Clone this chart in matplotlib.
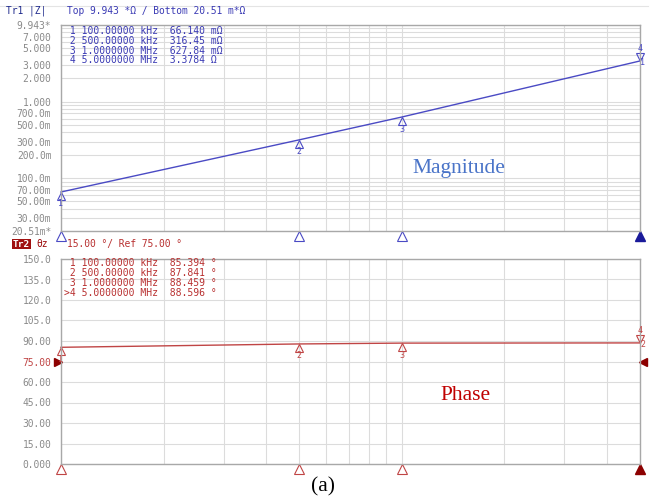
import matplotlib
matplotlib.use("Agg")
import matplotlib.pyplot as plt
from matplotlib.ticker import LogLocator, NullFormatter, FixedLocator
from matplotlib.transforms import offset_copy

W, H = 652, 499

# marker data
freq_hz = [100e3, 500e3, 1e6, 5e6]
mag_ohm = [0.06614, 0.31645, 0.62784, 3.3784]
phase_deg = [85.394, 87.841, 88.459, 88.596]
marker_ids = ["1", "2", "3", "4"]

mag_rows = [" 1 100.00000 kHz  66.140 mΩ",
            " 2 500.00000 kHz  316.45 mΩ",
            " 3 1.0000000 MHz  627.84 mΩ",
            " 4 5.0000000 MHz  3.3784 Ω"]
phase_rows = [" 1 100.00000 kHz  85.394 °",
              " 2 500.00000 kHz  87.841 °",
              " 3 1.0000000 MHz  88.459 °",
              ">4 5.0000000 MHz  88.596 °"]

mag_ticks = [9.943, 7, 5, 3, 2, 1, 0.7, 0.5, 0.3, 0.2, 0.1, 0.07, 0.05, 0.03, 0.02051]
mag_tick_labels = ["9.943*", "7.000", "5.000", "3.000", "2.000", "1.000", "700.0m",
                   "500.0m", "300.0m", "200.0m", "100.0m", "70.00m", "50.00m",
                   "30.00m", "20.51m*"]
phase_ticks = [0, 15, 30, 45, 60, 75, 90, 105, 120, 135, 150]
phase_tick_labels = ["0.000", "15.00", "30.00", "45.00", "60.00", "75.00", "90.00",
                     "105.0", "120.0", "135.0", "150.0"]
phase_ref = 75

MONO = "DejaVu Sans Mono"
SERIF = "Liberation Serif"
BLUE = "#4a4ac4"
BLUE_TXT = "#3a3ab4"
BLUE_DARK = "#1f2a8c"
RED = "#c04545"
RED_TXT = "#b83030"
RED_DARK = "#9c0a0a"
GRAY = "#8a8a8a"
GRID = "#dcdcdc"


def fx(x):
    return x / W


def fy(y):
    return 1 - y / H


fig = plt.figure(figsize=(W / 100, H / 100), dpi=100)

ax1 = fig.add_axes([fx(61), fy(231), fx(640) - fx(61), fy(25) - fy(231)])
ax2 = fig.add_axes([fx(61), fy(464), fx(640) - fx(61), fy(259) - fy(464)])

for ax in (ax1, ax2):
    ax.set_xscale("log")
    ax.set_xlim(freq_hz[0], freq_hz[-1])
    ax.xaxis.set_major_locator(LogLocator(base=10, subs=range(1, 10), numticks=50))
    ax.xaxis.set_minor_locator(FixedLocator([]))
    ax.xaxis.set_major_formatter(NullFormatter())
    ax.tick_params(axis="both", which="both", length=0)
    ax.tick_params(axis="y", pad=7, labelcolor=GRAY)
    ax.grid(True, which="both", color=GRID, lw=0.8)
    ax.set_axisbelow(True)
    for s in ax.spines.values():
        s.set_color("#a8a8a8")
        s.set_linewidth(1)

# magnitude panel
ax1.set_yscale("log")
ax1.set_ylim(mag_ticks[-1], mag_ticks[0])
ax1.yaxis.set_minor_locator(LogLocator(base=10, subs=range(1, 10), numticks=50))
ax1.yaxis.set_minor_formatter(NullFormatter())
ax1.set_yticks(mag_ticks)
ax1.set_yticklabels(mag_tick_labels, fontfamily=MONO, fontsize=6.9)
ax1.plot(freq_hz, mag_ohm, color=BLUE, lw=1, clip_on=False)

# phase panel
ax2.set_ylim(phase_ticks[0], phase_ticks[-1])
ax2.set_yticks(phase_ticks)
ax2.set_yticklabels(phase_tick_labels, fontfamily=MONO, fontsize=6.9)
ax2.get_yticklabels()[phase_ticks.index(phase_ref)].set_color(RED)
ax2.plot(freq_hz, phase_deg, color=RED, lw=1, clip_on=False)


def draw_markers(ax, values, col, fill_col, last_tag):
    below = offset_copy(ax.transData, fig=fig, y=-4, units="dots")
    below_txt = offset_copy(ax.transData, fig=fig, y=-12, units="dots")
    above = offset_copy(ax.transData, fig=fig, y=4, units="dots")
    above_txt = offset_copy(ax.transData, fig=fig, y=12, units="dots")
    side_txt = offset_copy(ax.transData, fig=fig, x=3, y=-2, units="dots")
    for f, v, m in zip(freq_hz[:-1], values[:-1], marker_ids[:-1]):
        ax.plot(f, v, marker="^", ms=6, mfc="none", mec=col, mew=0.8,
                transform=below, clip_on=False)
        ax.text(f, v, m, transform=below_txt, color=col, fontsize=6,
                fontfamily=MONO, ha="center", va="center")
    f, v = freq_hz[-1], values[-1]
    ax.plot(f, v, marker="v", ms=6, mfc="none", mec=col, mew=0.8,
            transform=above, clip_on=False)
    ax.text(f, v, marker_ids[-1], transform=above_txt, color=col, fontsize=6,
            fontfamily=MONO, ha="center", va="center")
    ax.text(f, v, last_tag, transform=side_txt, color=col, fontsize=6,
            fontfamily=MONO, ha="center", va="center")
    # stimulus markers under the x axis
    xt = ax.get_xaxis_transform()
    ax.plot(freq_hz[:-1], [-0.025] * 3, ls="none", marker="^", ms=6.5, mfc="white",
            mec=col, mew=0.8, transform=xt, clip_on=False)
    ax.plot(freq_hz[-1], -0.025, marker="^", ms=6.5, color=fill_col, transform=xt,
            clip_on=False)


draw_markers(ax1, mag_ohm, BLUE, "#1a1a9a", "1")
draw_markers(ax2, phase_deg, RED, "#8c0000", "2")

# reference level arrows on the phase panel
yt = ax2.get_yaxis_transform()
ax2.plot(-0.006, phase_ref, marker=">", ms=6, color="#8c0000", transform=yt, clip_on=False)
ax2.plot(1.006, phase_ref, marker="<", ms=6, color="#8c0000", transform=yt, clip_on=False)

# marker tables
row_step = 9.8
for i, row in enumerate(mag_rows):
    fig.text(fx(64), fy(31 + i * row_step), row, color=BLUE_TXT, fontfamily=MONO,
             fontsize=7.0, va="center")
for i, row in enumerate(phase_rows):
    fig.text(fx(64), fy(263.5 + i * row_step), row, color=RED_TXT, fontfamily=MONO,
             fontsize=7.0, va="center")

# header lines
fig.add_artist(plt.Line2D([0, fx(648)], [fy(6), fy(6)], color="#e4e4e4", lw=0.8))
fig.text(fx(6), fy(11), "Tr1 |Z|", color=BLUE_DARK, fontfamily=MONO, fontsize=6.9,
         va="center")
fig.text(fx(67), fy(11), "Top 9.943 *Ω / Bottom 20.51 m*Ω", color=BLUE_TXT,
         fontfamily=MONO, fontsize=6.9, va="center")
fig.text(fx(13), fy(244), "Tr2", color="white", fontfamily=MONO, fontsize=6.8,
         fontweight="bold", va="center",
         bbox=dict(boxstyle="square,pad=0.1", fc="#a01010", ec="none"))
fig.text(fx(36), fy(244), "θz", color=RED_DARK, fontfamily=MONO, fontsize=6.9,
         va="center")
fig.text(fx(67), fy(244), "15.00 °/ Ref 75.00 °", color=RED_TXT, fontfamily=MONO,
         fontsize=6.9, va="center")

# panel captions
fig.text(fx(412), fy(168), "Magnitude", color="#4a74c8", fontfamily=SERIF,
         fontsize=15.5, va="center")
fig.text(fx(440), fy(395), "Phase", color="#c00000", fontfamily=SERIF,
         fontsize=15.5, va="center")
fig.text(fx(323), fy(487), "(a)", color="black", fontfamily=SERIF, fontsize=15.5,
         va="center", ha="center")

fig.savefig("out.png", dpi=100)
